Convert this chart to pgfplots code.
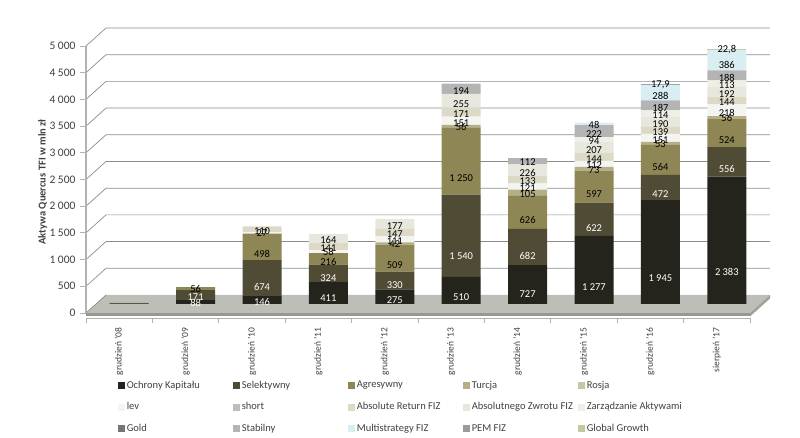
\documentclass[border=0pt]{standalone}
\usepackage{fontspec}
\setmainfont{Carlito}
\usepackage{pgfplots}
\usepackage{pgfplotstable}
\pgfplotsset{compat=1.18}

\definecolor{cOch}{HTML}{24241C}
\definecolor{cSel}{HTML}{4F4B35}
\definecolor{cAgr}{HTML}{8E8654}
\definecolor{cTur}{HTML}{B5AE86}
\definecolor{cRos}{HTML}{C9C6A6}
\definecolor{clev}{HTML}{F4F4F0}
\definecolor{csho}{HTML}{BDBDBD}
\definecolor{cARF}{HTML}{DCDAC6}
\definecolor{cAZF}{HTML}{E8E7DD}
\definecolor{cZA}{HTML}{F0EFE7}
\definecolor{cGol}{HTML}{767676}
\definecolor{cSta}{HTML}{B4B4B4}
\definecolor{cMul}{HTML}{D8EEF3}
\definecolor{cPEM}{HTML}{9A9A9A}
\definecolor{cGG}{HTML}{C5C6A2}
\definecolor{gridc}{HTML}{8C8C8C}
\definecolor{floorc}{HTML}{BEBEB8}
\definecolor{txtc}{HTML}{404040}

\pgfplotsset{myleg/.style={legend image code/.code={\fill[##1] (0pt,-3.5pt) rectangle (7pt,3.5pt);}}}

\pgfplotstableread{
x Och Sel Agr Tur Ros lev sho ARF AZF ZA Gol Sta Mul PEM GG
0 8 6 6 0 0 0 0 0 0 0 0 0 0 0 0
1 88 171 56 0 0 0 0 0 0 0 0 0 0 0 0
2 146 674 498 0 0 27 0 110 0 0 0 0 0 0 0
3 411 324 216 0 0 58 0 141 164 0 0 0 0 0 0
4 275 330 509 42 0 111 0 147 177 0 0 0 0 0 0
5 510 1540 1250 56 0 151 0 171 255 0 0 194 0 0 0
6 727 682 626 105 0 121 0 133 226 0 0 112 0 0 0
7 1277 622 597 73 0 112 0 144 207 94 0 222 48 0 0
8 1945 472 564 53 0 151 0 139 190 114 0 187 288 17.9 0
9 2383 556 524 56 0 218 0 144 192 113 0 188 386 0 22.8
}\data

\newcommand\seg[4]{%
  \addplot[fill=#2, draw=none,
    visualization depends on={\thisrow{#1} \as \segval},
    visualization depends on={\thisrow{x} \as \xval},
    every node near coord/.append style={text=#3},
    myleg]
    table[x=x, y=#1, meta=#1] {\data};
  \addlegendentry{\makebox[104pt][l]{#4}}}

\begin{document}
\begin{tikzpicture}[x=1pt,y=1pt]
\path[use as bounding box] (0,0) rectangle (800,438);
% --- 3D-style frame: floor, back-wall grid, front axis (geometry of the axis below)
\fill[floorc] (86,125) -- (750,125) -- (770,143) -- (106,143) -- cycle;
\fill[floorc!80!black] (86,125) -- (750,125) -- (750,121.5) -- (86,121.5) -- cycle;
\fill[floorc!85!black] (750,125) -- (770,143) -- (770,139.5) -- (750,121.5) -- cycle;
\foreach \k in {1,...,10}{
  \draw[gridc, line width=0.7pt] (86,125+26.7*\k) -- (106,143+26.7*\k) -- (770,143+26.7*\k);
}
\draw[gridc, line width=0.7pt] (86,125) -- (106,143);
\foreach \k in {0,...,10}{
  \draw[gray!60, line width=0.8pt] (80,125+26.7*\k) -- (86,125+26.7*\k);
}
\draw[gray!60, line width=1.3pt] (86,125) -- (86,392);
\draw[gray!60, line width=0.8pt] (86,120) -- (750,120);
\foreach \k in {0,...,10}{
  \draw[gray!60, line width=0.8pt] (86+66.4*\k,120) -- (86+66.4*\k,115);
}
\begin{axis}[
  at={(96pt,134pt)}, anchor=south west,
  scale only axis, width=664pt, height=267pt,
  xmin=-0.5, xmax=9.5, ymin=0, ymax=5000,
  ybar stacked, bar width=39pt,
  clip=false,
  axis lines=left, axis line style={draw=none}, major tick length=0pt,
  xtick={0,...,9},
  xticklabels={grudzień '08,grudzień '09,grudzień '10,grudzień '11,grudzień '12,grudzień '13,grudzień '14,grudzień '15,grudzień '16,sierpień '17},
  xticklabel style={xshift=-10pt, yshift=-20pt, rotate=90, anchor=east, font=\fontsize{9.5}{11}\selectfont, text=txtc},
  ytick={0,500,...,5000},
  yticklabel style={xshift=-17pt, yshift=-9pt, font=\fontsize{11.5}{13}\selectfont, text=txtc},
  /pgf/number format/.cd, use comma, 1000 sep={\hspace{0.22em}}, assume math mode=true, /pgfplots/.cd,
  ylabel={Aktywa Quercus TFI w mln zł},
  every axis y label/.style={at={(axis description cs:-0.08,0.457)}, rotate=90, anchor=center, font=\bfseries\fontsize{10.5}{12}\selectfont, text=txtc},
  point meta=explicit,
  nodes near coords={\ifdim\xval pt<0.5pt\relax\else\pgfmathfloatifflags{\pgfplotspointmeta}{0}{}{\pgfmathprintnumber{\pgfplotspointmeta}}\fi},
  every node near coord/.append style={font=\fontsize{10.5}{11}\selectfont, anchor=center, inner sep=0pt, yshift=-0.01335*\segval},
  legend columns=5,
  legend cell align=left,
  legend style={at={(axis description cs:0.028,-0.272)}, anchor=north west, draw=none, fill=none,
    font=\fontsize{10.5}{12}\selectfont, text=txtc, row sep=9pt},
]
\seg{Och}{cOch}{white}{Ochrony Kapitału}
\seg{Sel}{cSel}{white}{Selektywny}
\seg{Agr}{cAgr}{black}{Agresywny}
\seg{Tur}{cTur}{black}{Turcja}
\seg{Ros}{cRos}{black}{Rosja}
\seg{lev}{clev}{black}{lev}
\seg{sho}{csho}{black}{short}
\seg{ARF}{cARF}{black}{Absolute Return FIZ}
\seg{AZF}{cAZF}{black}{Absolutnego Zwrotu FIZ}
\seg{ZA}{cZA}{black}{Zarządzanie Aktywami}
\seg{Gol}{cGol}{black}{Gold}
\seg{Sta}{cSta}{black}{Stabilny}
\seg{Mul}{cMul}{black}{Multistrategy FIZ}
\seg{PEM}{cPEM}{black}{PEM FIZ}
\seg{GG}{cGG}{black}{Global Growth}
\end{axis}
\end{tikzpicture}
\end{document}
